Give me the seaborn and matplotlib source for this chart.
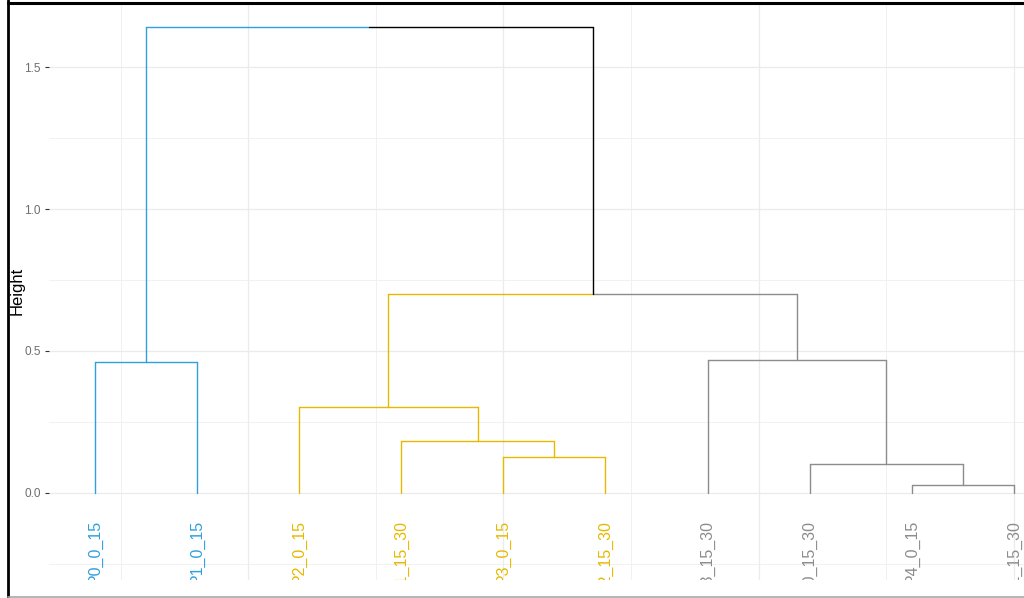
import numpy as np
import pandas as pd
import matplotlib
matplotlib.use("Agg")
import matplotlib.pyplot as plt
from matplotlib.lines import Line2D
from matplotlib.ticker import FixedLocator
import seaborn as sns

# Leaves in dendrogram order, with their cluster
leaf_labels = ["P0_0_15", "P1_0_15", "P2_0_15", "P1_15_30", "P3_0_15",
               "P2_15_30", "P3_15_30", "P0_15_30", "P4_0_15", "R1_15_30"]
leaf_cluster = ["c1", "c1", "c2", "c2", "c2", "c2", "c3", "c3", "c3", "c3"]

# Agglomeration steps (node ids >= 10 are earlier merges, in order)
merge_left = [4, 3, 2, 8, 7, 6, 0, 12, 16]
merge_right = [5, 10, 11, 9, 13, 14, 1, 15, 17]
merge_height = [0.125, 0.183, 0.301, 0.027, 0.102, 0.468, 0.460, 0.699, 1.642]

cluster_colors = {"c1": "#2E9FDF", "c2": "#E7B800", "c3": "#8C8C8C", "none": "#000000"}

sns.set_theme(style="whitegrid")
plt.rcParams["font.family"] = ["Liberation Sans", "DejaVu Sans"]

n = len(leaf_labels)
pos = {i: float(i + 1) for i in range(n)}
hgt = {i: 0.0 for i in range(n)}
clus = {i: leaf_cluster[i] for i in range(n)}

rows = []
seg = 0
for k, (a, b, h) in enumerate(zip(merge_left, merge_right, merge_height)):
    node = n + k
    xa, xb = pos[a], pos[b]
    xm = (xa + xb) / 2
    for child, xc in ((a, xa), (b, xb)):
        c = clus[child]
        # vertical drop to the child, then half of the horizontal bar
        rows += [(seg, xc, hgt[child], c), (seg, xc, h, c)]
        seg += 1
        rows += [(seg, xc, h, c), (seg, xm, h, c)]
        seg += 1
    pos[node] = xm
    hgt[node] = h
    clus[node] = clus[a] if clus[a] == clus[b] else "none"

segs = pd.DataFrame(rows, columns=["seg", "x", "y", "cluster"])

fig = plt.figure(figsize=(10.24, 5.98), dpi=100)
ax = fig.add_axes([0.0479, 0.0300, 0.987, 0.9666])

sns.lineplot(data=segs, x="x", y="y", units="seg", estimator=None, sort=False,
             hue="cluster", palette=cluster_colors, legend=False, lw=1.0, ax=ax)

for i, lab in enumerate(leaf_labels):
    ax.text(i + 1, -0.095, lab, rotation=90, ha="center", va="top",
            color=cluster_colors[leaf_cluster[i]], fontsize=11.5, clip_on=True)

ax.set_xlim(0.55, 10.45)
ax.set_ylim(-0.308, 1.73)

ax.yaxis.set_major_locator(FixedLocator([0.0, 0.5, 1.0, 1.5]))
ax.yaxis.set_minor_locator(FixedLocator([-0.25, 0.25, 0.75, 1.25]))
ax.xaxis.set_major_locator(FixedLocator([2.5, 5.0, 7.5, 10.0]))
ax.xaxis.set_minor_locator(FixedLocator([1.25, 3.75, 6.25, 8.75]))
ax.set_yticklabels(["0.0", "0.5", "1.0", "1.5"])
ax.set_xticklabels([])

ax.grid(True, which="major", color="#EBEBEB", lw=0.9)
ax.grid(True, which="minor", color="#EFEFEF", lw=0.6)
ax.set_axisbelow(True)
ax.set_facecolor("white")
for s in ax.spines.values():
    s.set_visible(False)

ax.tick_params(axis="y", which="major", left=True, length=3, width=0.8,
               color="#333333", labelsize=8.5, labelcolor="#6E6E6E", pad=3)
ax.tick_params(axis="y", which="minor", left=False)
ax.tick_params(axis="x", which="both", bottom=False, length=0)

ax.set_xlabel("")
ax.set_ylabel("Height", fontsize=12, color="black", labelpad=-0.5)

# outer frame
fig.add_artist(Line2D([8 / 1024, 8 / 1024], [0, 1], transform=fig.transFigure,
                      color="black", lw=2.0))
fig.add_artist(Line2D([8 / 1024, 1], [1 - 3 / 598, 1 - 3 / 598], transform=fig.transFigure,
                      color="black", lw=2.2))
fig.add_artist(Line2D([8 / 1024, 1], [1.2 / 598, 1.2 / 598], transform=fig.transFigure,
                      color="#A8A8A8", lw=1.2))

fig.savefig("out.png", dpi=100, facecolor="white")
